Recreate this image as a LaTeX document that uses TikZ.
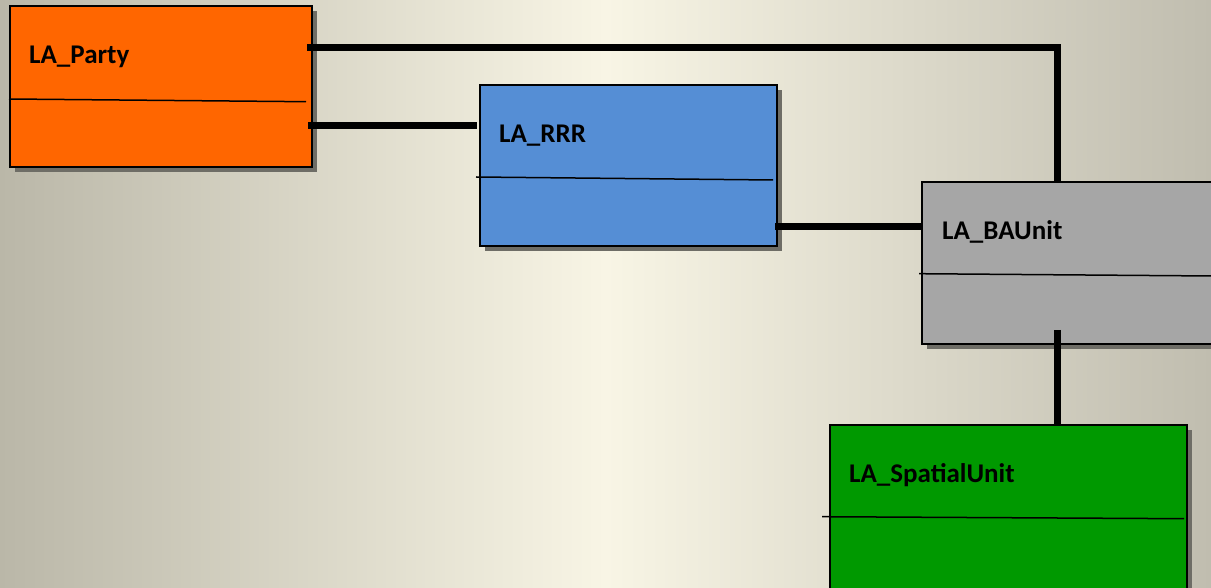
\documentclass[tikz,border=0pt]{standalone}
\usepackage{fontspec}
\setmainfont{Carlito}
\usetikzlibrary{calc,shadows}
\definecolor{bgleft}{HTML}{BAB7A8}
\definecolor{bgmid}{HTML}{F8F5E5}
\definecolor{bgright}{HTML}{C0BDAF}
\definecolor{partyorange}{HTML}{FF6600}
\definecolor{rrrblue}{HTML}{558ED5}
\definecolor{baugray}{HTML}{A6A6A6}
\definecolor{spgreen}{HTML}{009900}
\definecolor{shadowgray}{HTML}{6E6D66}
\begin{document}
\begin{tikzpicture}[x=1pt,y=1pt,
  umlbox/.style={draw=black, line width=2pt, rectangle, inner sep=0pt, anchor=north west,
    general shadow={fill=shadowgray, shadow xshift=5pt, shadow yshift=-5pt}},
  conn/.style={line width=7pt, draw=black},
  divider/.style={line width=1.5pt, draw=black},
  lbl/.style={anchor=base west, inner sep=0pt, font=\fontsize{27}{30}\selectfont\bfseries}]
\useasboundingbox (0,0) rectangle (1211,587);
\clip (0,0) rectangle (1211,587);
\shade[left color=bgleft, right color=bgright, middle color=bgmid] (0,0) rectangle (1211,587);

% boxes
\node[umlbox, fill=partyorange, minimum width=302pt, minimum height=161pt] (party) at (9,582) {};
\node[umlbox, fill=rrrblue, minimum width=297pt, minimum height=161pt] (rrr) at (479,503) {};
\node[umlbox, fill=baugray, minimum width=300pt, minimum height=162pt] (bau) at (921,406) {};
\node[umlbox, fill=spgreen, minimum width=357pt, minimum height=180pt] (sp) at (829,163) {};

% dividers
\draw[divider] ($(party.north west)+(0,-94)$) -- ($(party.north west)+(297,-96.7)$);
\draw[divider] ($(rrr.north west)+(-3,-93)$) -- ($(rrr.north west)+(294,-96)$);
\draw[divider] ($(bau.north west)+(-2,-92.7)$) -- ($(bau.north west)+(292,-95)$);
\draw[divider] ($(sp.north west)+(-7,-92.7)$) -- ($(sp.north west)+(355,-94.7)$);

% labels
\node[lbl] (partylbl) at ($(party.north west)+(20,-59)$) {LA\_Party};
\node[lbl] (rrrlbl) at ($(rrr.north west)+(20,-58.5)$) {LA\_RRR};
\node[lbl] (baulbl) at ($(bau.north west)+(21,-58.5)$) {LA\_BAUnit};
\node[lbl] (splbl) at ($(sp.north west)+(20,-58.7)$) {LA\_SpatialUnit};

% connectors
\coordinate (c1) at ($(party.east)+(-6,38.5)$);
\coordinate (c1v) at ($(bau.north west)+(136,0)$);
\draw[conn] (c1) -| (c1v);
\coordinate (c2) at ($(party.east)+(-5,-39)$);
\draw[conn] (c2) -- ($(c2 -| rrr.west)+(-2.5,0)$);
\coordinate (c3) at ($(rrr.east)+(-3,-61.5)$);
\draw[conn] (c3) -- (c3 -| bau.west);
\coordinate (c4) at ($(bau.north west)+(136,-149)$);
\draw[conn] (c4) -- (c4 |- sp.north);
\end{tikzpicture}
\end{document}
